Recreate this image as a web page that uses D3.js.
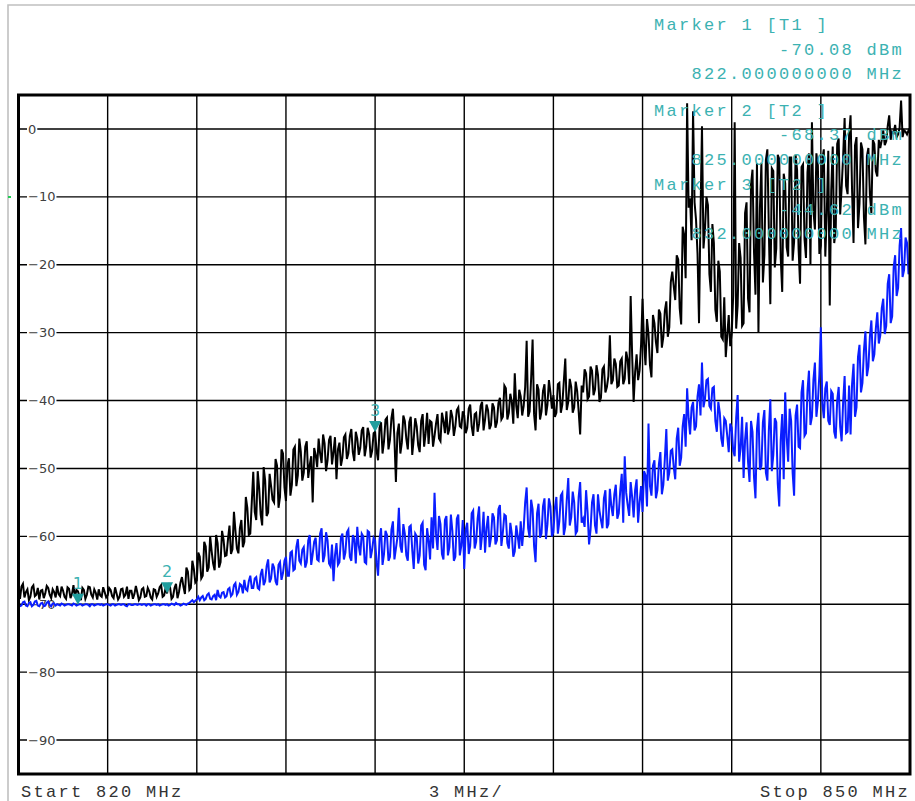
<!DOCTYPE html>
<html lang="en">
<head>
<meta charset="utf-8">
<title>Spectrum 820 - 850 MHz</title>
<script src="https://d3js.org/d3.v7.min.js"></script>
<style>
  body { margin: 0; background: #fff; }
  svg { display: block; }
</style>
</head>
<body>
<script>
// sweep settings
var startMHz = 820, stopMHz = 850, stepMHz = 0.05;

// trace 1 (black), dBm, read at 820.0, 820.1, ... 850.0
var trace1 = [
  -68.5,-67.4,-69.0,-67.8,-68.9,-67.2,-68.6,-69.3,-67.9,-68.4,
  -67.6,-69.1,-68.2,-67.3,-68.8,-68.0,-69.2,-67.7,-68.5,-68.9,
  -68.1,-69.4,-67.9,-68.6,-67.5,-69.0,-68.3,-67.8,-68.9,-68.2,
  -68.7,-67.9,-69.1,-68.4,-68.9,-67.7,-68.6,-69.2,-68.0,-68.5,
  -68.3,-69.0,-67.6,-68.8,-68.1,-69.3,-67.9,-68.4,-67.2,-68.7,
  -68.4,-67.5,-68.9,-67.0,-68.2,-66.0,-68.5,-65.2,-67.6,-64.8,
  -66.5,-63.0,-65.8,-61.5,-64.6,-62.2,-65.0,-61.0,-63.8,-60.5,
  -62.8,-58.4,-61.9,-59.2,-62.5,-57.6,-60.8,-55.8,-59.6,-50.5,
  -57.6,-53.0,-58.4,-51.8,-56.5,-52.6,-55.0,-49.6,-54.2,-47.8,
  -54.8,-48.5,-52.4,-46.8,-51.0,-47.5,-50.6,-46.0,-49.5,-55.0,
  -48.0,-45.6,-49.2,-46.3,-48.8,-45.2,-47.6,-51.6,-46.2,-48.4,
  -45.0,-47.8,-44.2,-48.9,-45.6,-47.0,-43.9,-46.8,-45.0,-47.4,
  -44.6,-48.8,-43.2,-46.0,-42.5,-45.8,-41.2,-52.0,-43.4,-46.2,
  -43.0,-47.2,-42.4,-45.6,-43.8,-47.6,-42.0,-44.8,-46.4,-43.2,
  -45.2,-42.0,-46.0,-43.0,-41.6,-44.2,-42.4,-43.8,-41.0,-44.0,
  -42.2,-44.0,-40.6,-45.2,-41.8,-43.4,-40.2,-42.8,-41.4,-43.6,
  -41.0,-43.2,-39.6,-42.4,-38.2,-41.8,-40.2,-36.0,-42.6,-39.4,
  -40.8,-31.2,-41.6,-31.0,-44.4,-38.4,-41.6,-37.6,-40.6,-38.8,
  -39.2,-41.8,-37.4,-40.6,-33.8,-40.2,-38.0,-41.0,-38.6,-45.0,
  -38.8,-36.0,-39.4,-35.6,-38.4,-36.2,-39.6,-35.0,-38.0,-30.4,
  -37.0,-34.6,-37.8,-33.8,-36.8,-34.0,-24.6,-40.2,-33.2,-35.6,
  -25.0,-34.8,-30.2,-36.6,-28.6,-33.0,-27.2,-30.6,-25.4,-29.2,
  -21.0,-25.2,-19.2,-28.8,-15.6,3.8,-10.2,2.6,-13.4,-28.6,
  0.4,-14.8,-11.2,-24.0,-16.8,-28.4,-21.0,-31.0,-33.6,-27.4,
  -30.2,1.0,-26.0,-19.0,-28.6,-10.8,-27.0,-6.0,-24.4,-30.0,
  -5.0,-18.6,-3.0,-25.8,-6.2,-17.6,-4.4,-24.0,-8.0,-18.8,
  -4.2,-16.6,-6.0,-22.8,-5.2,-19.0,-3.6,1.0,-14.8,-5.4,
  -17.2,-3.0,-12.4,-26.0,-2.6,-15.0,-1.4,-8.6,1.6,-9.6,
  2.0,-16.8,-1.2,-11.0,-3.0,-17.0,-2.8,-12.4,-2.2,-7.0,
  -2.8,-0.2,-1.8,2.0,-0.4,0.6,-0.8,4.2,-0.2,-0.8,
  -0.6
];
// trace 1, read at 820.05, 820.15, ... 849.95
var trace1Mid = [
  -69.2,-67.0,-68.2,-69.4,-67.5,-68.8,-67.6,-68.0,-69.1,-67.3,
  -68.6,-67.8,-69.0,-68.5,-67.4,-68.9,-67.5,-69.1,-67.2,-67.9,
  -68.8,-67.6,-69.2,-67.4,-68.6,-67.8,-69.3,-68.7,-67.5,-69.0,
  -67.6,-68.8,-67.5,-69.3,-67.8,-68.9,-67.4,-68.0,-69.2,-67.3,
  -69.4,-67.8,-68.9,-67.6,-69.0,-67.8,-68.9,-67.5,-68.9,-67.6,
  -66.9,-69.2,-67.6,-69.1,-66.8,-67.4,-64.6,-67.9,-63.6,-66.8,
  -62.4,-66.2,-60.8,-65.2,-60.0,-64.0,-59.8,-64.6,-59.2,-62.9,
  -60.4,-62.6,-56.4,-61.8,-58.8,-61.6,-54.2,-59.8,-55.0,-56.4,
  -50.4,-56.8,-49.8,-57.0,-50.8,-54.6,-48.6,-55.8,-47.2,-52.8,
  -49.6,-54.0,-47.2,-52.6,-45.6,-51.8,-46.8,-51.4,-48.2,-47.0,
  -49.8,-47.8,-45.0,-50.4,-45.8,-49.4,-45.4,-47.2,-49.6,-45.4,
  -48.6,-45.2,-47.6,-44.6,-48.0,-44.4,-48.2,-44.0,-48.4,-44.8,
  -47.4,-44.0,-47.8,-42.8,-47.2,-42.6,-45.6,-44.8,-47.8,-42.2,
  -45.6,-43.2,-48.0,-42.6,-46.6,-43.0,-46.8,-41.8,-43.0,-46.8,
  -43.4,-45.6,-41.8,-44.8,-45.0,-41.4,-45.2,-41.4,-43.8,-41.6,
  -44.8,-41.2,-43.8,-42.0,-44.6,-40.8,-44.4,-40.6,-44.2,-40.4,
  -44.0,-40.4,-42.8,-37.8,-42.8,-39.0,-43.4,-40.8,-38.4,-42.2,
  -38.0,-42.4,-36.8,-42.0,-37.6,-42.8,-38.6,-42.2,-37.0,-41.2,
  -42.4,-37.6,-41.8,-37.2,-41.4,-36.8,-41.8,-37.2,-41.6,-37.8,
  -35.4,-39.8,-35.0,-39.2,-34.8,-40.2,-35.4,-38.8,-36.4,-37.6,
  -33.8,-38.0,-34.2,-37.6,-32.8,-37.6,-33.4,-35.8,-37.0,-31.8,
  -31.6,-28.0,-34.8,-27.4,-31.4,-26.6,-32.2,-26.8,-30.6,-22.6,
  -23.2,-18.6,-26.4,-14.4,-22.0,-11.6,-16.4,-10.8,-18.4,-12.6,
  -17.6,-10.0,-21.4,-14.0,-26.6,-19.4,-30.6,-24.8,-30.4,-32.0,
  -24.6,-29.4,-16.8,-29.0,-12.4,-25.0,-8.2,-18.0,-5.0,-11.6,
  -22.6,-4.6,-15.0,-5.8,-20.4,-3.8,-19.0,-6.6,-17.4,-4.2,
  -19.4,-3.8,-17.6,-5.6,-16.2,-6.4,-20.0,-12.0,-3.6,-18.4,
  -4.4,-18.8,-3.2,-9.0,-16.8,-2.2,-12.6,-4.0,-8.4,-1.0,
  -9.0,-2.4,-14.6,-2.0,-13.0,-4.0,-9.6,-1.6,-6.2,-1.6,
  -1.6,-2.4,0.4,-1.6,-0.6,-1.2,0.2,-1.2,-0.4,-0.2
];

// trace 2 (blue), read at 820.0, 820.1, ... 850.0
var trace2 = [
  -69.8,-70.2,-69.6,-70.3,-69.7,-70.1,-69.5,-70.3,-69.8,-70.2,
  -69.6,-70.3,-69.9,-70.0,-70.2,-70.0,-70.1,-70.0,-70.2,-70.0,
  -70.1,-70.0,-70.1,-70.0,-70.3,-70.0,-70.1,-70.0,-70.0,-70.1,
  -70.0,-70.2,-70.0,-70.1,-70.0,-70.0,-70.2,-70.0,-70.1,-70.0,
  -70.1,-70.0,-70.0,-70.2,-70.0,-70.1,-70.0,-70.0,-70.1,-70.0,
  -70.0,-70.1,-70.0,-69.8,-70.0,-70.1,-70.0,-69.9,-69.6,-69.7,
  -69.3,-69.4,-68.8,-69.2,-68.4,-69.3,-68.6,-67.9,-69.0,-68.2,
  -68.8,-67.6,-68.5,-66.9,-68.2,-67.2,-66.4,-68.0,-65.8,-67.6,
  -66.0,-67.8,-64.8,-66.6,-63.4,-66.2,-64.6,-67.2,-63.8,-65.4,
  -63.0,-65.8,-62.2,-64.8,-60.4,-64.0,-61.6,-63.8,-59.8,-62.6,
  -60.2,-63.6,-58.8,-62.8,-60.6,-64.4,-66.6,-61.0,-63.8,-59.6,
  -62.4,-59.0,-63.6,-60.4,-58.6,-62.8,-60.0,-64.0,-59.4,-62.0,
  -60.6,-65.8,-58.8,-62.6,-59.8,-63.0,-57.8,-61.8,-55.8,-62.4,
  -59.6,-63.6,-58.4,-64.8,-60.0,-62.8,-58.0,-65.0,-60.6,-57.2,
  -53.6,-62.0,-58.2,-63.4,-57.0,-61.6,-59.2,-63.0,-56.8,-61.4,
  -64.8,-58.0,-61.4,-56.2,-60.8,-55.6,-59.8,-62.4,-57.0,-60.2,
  -57.2,-60.6,-55.4,-59.4,-57.0,-61.8,-59.6,-62.2,-60.0,-57.8,
  -58.8,-52.8,-60.2,-56.0,-63.8,-55.2,-59.6,-54.4,-58.2,-55.6,
  -59.4,-54.2,-57.8,-53.6,-58.6,-51.4,-57.2,-55.0,-59.2,-52.0,
  -57.4,-53.2,-61.2,-55.0,-58.4,-53.8,-57.6,-54.4,-58.8,-53.0,
  -57.0,-52.4,-56.6,-50.8,-48.2,-55.4,-52.0,-57.2,-51.6,-55.0,
  -56.4,-51.0,-43.4,-54.0,-48.8,-53.2,-47.6,-52.4,-44.2,-50.6,
  -47.2,-51.6,-44.0,-48.4,-42.0,-38.2,-45.0,-40.2,-43.8,-37.6,
  -34.4,-39.8,-36.8,-41.2,-38.0,-44.6,-41.8,-46.8,-43.0,-47.6,
  -44.0,-48.2,-39.2,-47.0,-51.4,-43.2,-52.0,-44.6,-54.4,-41.8,
  -49.6,-41.4,-51.8,-39.8,-48.0,-43.2,-55.6,-42.0,-38.8,-49.0,
  -43.0,-54.0,-40.6,-47.0,-37.0,-44.8,-35.6,-42.4,-34.4,-40.2,
  -29.2,-42.6,-37.2,-43.6,-39.0,-45.6,-38.0,-46.0,-36.4,-44.6,
  -45.0,-34.6,-41.0,-31.8,-37.4,-29.8,-35.0,-28.2,-33.2,-27.0,
  -30.4,-25.0,-29.0,-21.4,-27.6,-18.6,-23.4,-14.6,-20.8,-16.8,
  -19.6
];
// trace 2, read at 820.05, 820.15, ... 849.95
var trace2Mid = [
  -70.3,-69.7,-70.2,-69.8,-70.3,-69.6,-70.2,-69.9,-70.3,-69.8,
  -70.1,-69.9,-70.2,-70.1,-69.9,-70.2,-70.0,-70.1,-69.9,-70.2,
  -70.0,-70.2,-70.0,-70.1,-70.0,-70.2,-70.0,-70.1,-70.2,-70.0,
  -70.1,-70.0,-70.2,-70.0,-70.1,-70.0,-70.3,-70.0,-70.1,-70.0,
  -70.0,-70.1,-70.0,-70.0,-70.2,-70.0,-70.1,-70.2,-70.0,-70.1,
  -70.2,-69.9,-70.1,-70.0,-70.2,-69.9,-70.1,-69.8,-69.4,-69.5,
  -68.9,-69.0,-69.4,-68.6,-69.2,-68.8,-69.4,-68.8,-68.3,-69.0,
  -67.8,-68.8,-67.2,-68.6,-67.0,-68.4,-67.8,-66.6,-67.6,-66.2,
  -67.6,-65.6,-67.2,-64.4,-66.8,-64.0,-66.6,-64.2,-66.4,-63.6,
  -65.8,-62.4,-65.0,-61.6,-63.6,-62.0,-64.6,-60.6,-64.2,-60.8,
  -63.4,-59.6,-63.8,-59.4,-64.0,-61.2,-62.8,-64.2,-60.2,-63.4,
  -59.4,-63.0,-59.8,-64.0,-61.4,-59.6,-63.8,-59.2,-63.2,-60.2,
  -63.8,-60.4,-64.2,-59.2,-63.6,-59.0,-63.4,-60.2,-61.4,-58.2,
  -62.8,-58.6,-62.0,-59.6,-64.0,-58.4,-64.2,-58.8,-63.4,-61.8,
  -59.6,-57.0,-62.6,-57.6,-62.8,-56.8,-63.6,-57.4,-62.8,-57.6,
  -59.0,-62.6,-56.6,-61.8,-57.4,-62.0,-56.4,-58.8,-61.6,-56.6,
  -61.2,-56.0,-61.4,-56.8,-61.0,-58.0,-63.0,-58.4,-61.8,-61.4,
  -55.0,-58.8,-54.6,-61.4,-56.6,-60.2,-55.6,-60.4,-54.4,-60.0,
  -55.8,-59.6,-54.0,-59.8,-54.6,-58.4,-53.4,-59.6,-54.2,-58.0,
  -58.6,-56.4,-59.0,-53.8,-59.6,-56.2,-58.8,-53.2,-58.2,-55.6,
  -53.8,-57.4,-53.2,-58.0,-53.6,-57.0,-54.2,-53.2,-58.0,-52.6,
  -50.4,-55.6,-52.6,-49.6,-54.4,-49.4,-53.8,-48.6,-51.8,-47.4,
  -49.8,-45.6,-49.6,-43.8,-46.8,-42.6,-41.0,-44.4,-39.4,-42.2,
  -41.0,-37.0,-40.8,-38.2,-43.0,-40.2,-45.6,-42.6,-45.2,-43.4,
  -47.4,-42.6,-49.0,-42.4,-45.8,-49.0,-43.0,-51.2,-44.2,-50.2,
  -43.2,-50.6,-44.4,-50.4,-42.6,-52.2,-45.8,-51.6,-45.4,-41.2,
  -50.6,-42.2,-46.8,-38.8,-45.2,-38.6,-43.6,-37.0,-42.4,-36.2,
  -40.4,-38.2,-43.0,-38.6,-44.6,-40.0,-43.8,-40.2,-44.8,-37.8,
  -37.6,-42.4,-33.6,-38.8,-32.6,-36.4,-30.6,-34.2,-29.4,-31.6,
  -26.4,-30.2,-22.8,-28.6,-20.4,-24.6,-17.2,-21.8,-16.0,-21.4
];

// y tick labels and grid
var levelTicks = [0, -10, -20, -30, -40, -50, -60, -70, -80, -90];
var freqGrid = [823, 826, 829, 832, 835, 838, 841, 844, 847];

// markers
var markerMHz = [822, 825, 832];
var markerDbm = [-70.08, -68.37, -44.62];
var markerNames = ["Marker 1 [T1 ]", "Marker 2 [T2 ]", "Marker 3 [T2 ]"];
var markerLevels = ["-70.08 dBm", "-68.37 dBm", "-44.62 dBm"];
var markerFreqs = ["822.000000000 MHz", "825.000000000 MHz", "832.000000000 MHz"];

var w = 915, h = 801;
var svg = d3.select("body").append("svg").attr("width", w).attr("height", h);

var x = d3.scaleLinear().domain([startMHz, stopMHz]).range([18.5, 910]);
var y = d3.scaleLinear().domain([5, -95]).range([95, 774]);

// gray outer border (left and top only)
svg.append("path")
   .attr("d", "M8,801V5H915")
   .attr("fill", "none")
   .attr("stroke", "#c0c0c0")
   .attr("stroke-width", 1.6);

// ref level mark
svg.append("rect").attr("x", 8).attr("y", 196).attr("width", 3).attr("height", 2).attr("fill", "#22cc55");

var grid = svg.append("g").attr("stroke", "#000").attr("stroke-width", 1.4);
grid.selectAll("line.v").data(freqGrid).enter().append("line")
    .attr("x1", function(d) { return x(d); }).attr("x2", function(d) { return x(d); })
    .attr("y1", y(5)).attr("y2", y(-95));
grid.selectAll("line.h").data(levelTicks).enter().append("line")
    .attr("x1", x(startMHz)).attr("x2", x(stopMHz))
    .attr("y1", function(d) { return y(d); }).attr("y2", function(d) { return y(d); });

// level labels sit on the grid lines with a white box
var lab = svg.append("g").selectAll("g").data(levelTicks).enter().append("g");
lab.each(function(d) {
  var g = d3.select(this);
  var t = g.append("text")
    .attr("x", 28).attr("y", y(d)).attr("dy", "0.35em")
    .attr("font-family", "DejaVu Sans, Verdana, sans-serif")
    .attr("font-size", 13)
    .attr("fill", "#404040")
    .text(d === 0 ? "0" : "\u2212" + Math.abs(d));
  var b = t.node().getBBox();
  g.insert("rect", "text")
    .attr("x", b.x - 1).attr("y", y(d) - 5).attr("width", b.width + 2).attr("height", 10)
    .attr("fill", "#fff");
});

// merge the two readings of each trace into one sweep
function sweep(main, mid) {
  var out = [];
  main.forEach(function(v, i) {
    out.push(v);
    if (i < mid.length) out.push(mid[i]);
  });
  return out;
}
var t1 = sweep(trace1, trace1Mid);
var t2 = sweep(trace2, trace2Mid);

var line = d3.line()
    .x(function(d, i) { return x(startMHz + i * stepMHz); })
    .y(function(d) { return y(d); });

svg.append("path").datum(t1)
   .attr("d", line).attr("fill", "none")
   .attr("stroke", "#000").attr("stroke-width", 2);
svg.append("path").datum(t2)
   .attr("d", line).attr("fill", "none")
   .attr("stroke", "#0a1eff").attr("stroke-width", 2);

// marker triangles
var mk = svg.append("g").selectAll("g").data(markerMHz).enter().append("g")
    .attr("transform", function(d, i) { return "translate(" + x(d) + "," + y(markerDbm[i]) + ")"; });
mk.append("path").attr("d", "M0,0L-6,-11L6,-11Z").attr("fill", "#1f9e9e");
mk.append("text")
  .attr("y", -16).attr("text-anchor", "middle")
  .attr("font-family", "DejaVu Sans, sans-serif").attr("font-size", 16)
  .attr("fill", "#3cb2b2")
  .text(function(d, i) { return i + 1; });

// frame
svg.append("rect")
   .attr("x", x(startMHz)).attr("y", y(5))
   .attr("width", x(stopMHz) - x(startMHz)).attr("height", y(-95) - y(5))
   .attr("fill", "none").attr("stroke", "#000").attr("stroke-width", 3);

// marker readouts, monospaced columns
var col0 = 654, adv = 12.5, cols = 20;
var blockY = [30, 115.7, 190];
function mono(sel) {
  return sel.attr("font-family", "Liberation Mono, Courier New, monospace")
            .attr("font-size", 17).attr("letter-spacing", 2.3);
}
markerNames.forEach(function(name, i) {
  var rows = [name, markerLevels[i], markerFreqs[i]];
  rows.forEach(function(s, r) {
    var xx = r === 0 ? col0 : col0 + (cols - s.length) * adv;
    mono(svg.append("text"))
      .attr("x", xx).attr("y", blockY[i] + r * 24.7)
      .attr("fill", "#3cb2b2")
      .text(s);
  });
});

// bottom line
mono(svg.append("text")).attr("x", 21).attr("y", 797).attr("fill", "#333").text("Start 820 MHz");
mono(svg.append("text")).attr("x", 429).attr("y", 797).attr("fill", "#333").text("3 MHz/");
mono(svg.append("text")).attr("x", 910 - 12 * adv).attr("y", 797).attr("fill", "#333").text("Stop 850 MHz");
</script>
</body>
</html>
